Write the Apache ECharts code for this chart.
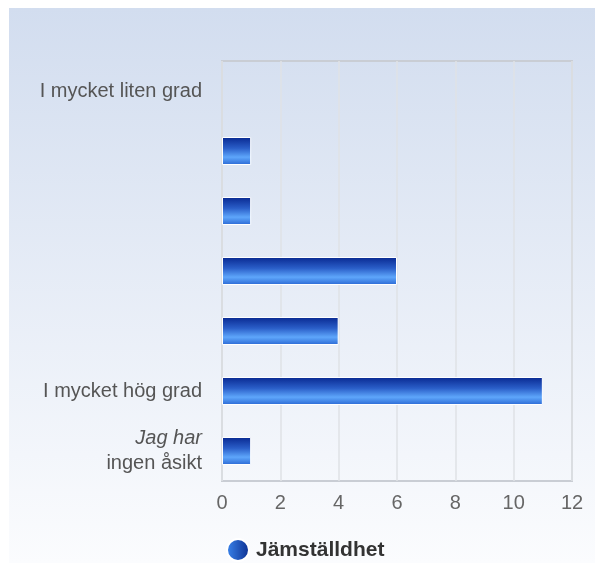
<!DOCTYPE html>
<html>
<head>
<meta charset="utf-8">
<script src="https://cdn.jsdelivr.net/npm/echarts@6/dist/echarts.min.js"></script>
<style>
  html, body { margin: 0; padding: 0; background: #fff; }
  #chart { width: 595px; height: 563px; }
</style>
</head>
<body>
<div id="chart"></div>
<script>
// data
const categories = ['I mycket liten grad', '', '', '', '', 'I mycket hög grad', 'Jag har\ningen åsikt'];
const values = [0, 1, 1, 6, 4, 11, 1];
const seriesName = 'Jämställdhet';
const xTicks = [0, 2, 4, 6, 8, 10, 12];

const chart = echarts.init(document.getElementById('chart'));

const barGradient = new echarts.graphic.LinearGradient(0, 0, 0, 1, [
  { offset: 0, color: '#082890' },
  { offset: 0.4, color: '#2a5ec8' },
  { offset: 0.72, color: '#5ea6fb' },
  { offset: 1, color: '#2a68d4' }
]);

const option = {
  animation: false,
  graphic: [{
    type: 'rect',
    left: 9, top: 8, z: -10,
    shape: { width: 586, height: 555 },
    style: {
      fill: new echarts.graphic.LinearGradient(0, 0, 0, 1, [
        { offset: 0, color: '#d2ddef' },
        { offset: 1, color: '#fbfcfe' }
      ])
    }
  }],
  grid: {
    left: 222, right: 23, top: 61, bottom: 82,
    show: true,
    borderColor: '#c9cdd4',
    borderWidth: 2,
    backgroundColor: 'transparent'
  },
  legend: {
    bottom: 1,
    left: 226,
    padding: 0,
    itemWidth: 22,
    itemHeight: 22,
    icon: 'circle',
    textStyle: { fontFamily: 'Liberation Sans', fontSize: 21, fontWeight: 'bold', color: '#333', padding: [0, 0, 0, 2] },
    data: [{
      name: seriesName,
      itemStyle: {
        color: new echarts.graphic.LinearGradient(0, 0, 1, 0, [
          { offset: 0, color: '#3b86ee' },
          { offset: 1, color: '#0b2d8e' }
        ])
      }
    }]
  },
  xAxis: {
    type: 'value',
    min: 0, max: 12, interval: 2,
    axisLine: { show: false },
    axisTick: { show: false },
    splitLine: { lineStyle: { color: '#dfe2e6', width: 1.5 } },
    axisLabel: {
      margin: 12,
      fontFamily: 'Liberation Sans', fontSize: 20, color: '#666',
      formatter: v => xTicks.includes(v) ? String(v) : ''
    }
  },
  yAxis: {
    type: 'category',
    inverse: true,
    data: categories,
    axisLine: { show: false },
    axisTick: { show: false },
    axisLabel: {
      margin: 20,
      fontFamily: 'Liberation Sans', fontSize: 20, color: '#555', lineHeight: 25,
      formatter: v => {
        if (v.indexOf('\n') >= 0) {
          const p = v.split('\n');
          return '{it|' + p[0] + '}\n' + p[1];
        }
        return v;
      },
      rich: {
        it: { fontStyle: 'italic', fontFamily: 'Liberation Sans', fontSize: 20, color: '#555', lineHeight: 25 }
      }
    }
  },
  series: [{
    name: seriesName,
    type: 'bar',
    data: values.map(v => v === 0 ? { value: v, itemStyle: { borderWidth: 0 } } : v),
    barWidth: 28,
    itemStyle: { color: barGradient, borderColor: '#ffffff', borderWidth: 1 }
  }]
};

chart.setOption(option);
</script>
</body>
</html>
